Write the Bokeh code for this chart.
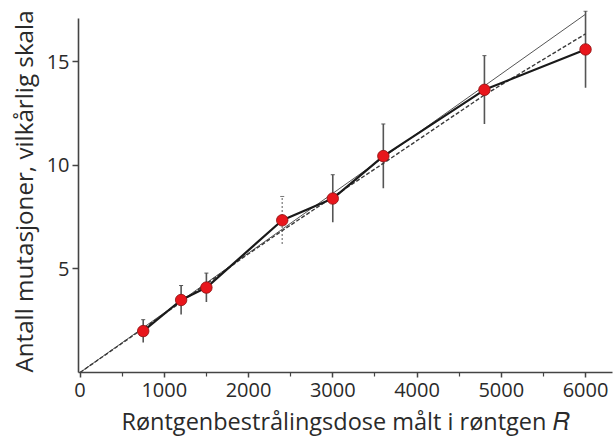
from bokeh.plotting import figure
from bokeh.models import ColumnDataSource, Whisker, FixedTicker, Range1d, TeeHead
from bokeh.embed import file_html
from bokeh.resources import INLINE

# data
dose = [750, 1200, 1500, 2400, 3000, 3600, 4800, 6000]
mutations = [2.0, 3.5, 4.1, 7.35, 8.4, 10.45, 13.65, 15.6]
errors = [0.55, 0.7, 0.7, 1.15, 1.15, 1.55, 1.65, 1.85]
dotted_bar = [False, False, False, True, False, False, False, False]

line_x = [0, 6000]
line_y = [0, 17.3]

dashed_x = [0, 1200, 1900, 2400, 3600, 4800, 6000]
dashed_y = [0, 3.4, 5.45, 6.85, 10.1, 13.4, 16.35]

x_ticks = [0, 1000, 2000, 3000, 4000, 5000, 6000]
x_minor = [500, 1500, 2500, 3500, 4500, 5500]
y_ticks = [5, 10, 15]

FONT = "Open Sans"
TEXT = "#2a2a2a"

p = figure(width=614, height=444, output_backend="svg", toolbar_location=None,
           x_range=Range1d(-18, 6320), y_range=Range1d(0, 17.48),
           min_border_left=78, min_border_right=2, min_border_top=10, min_border_bottom=72)
p.outline_line_color = None
p.grid.visible = False
p.background_fill_color = "white"

# thin straight line through origin
p.line(line_x, line_y, line_color="#555555", line_width=1)
# dashed fit
p.line(dashed_x, dashed_y, line_color="#3a3a3a", line_width=1.4, line_dash="4 2")


def bars(flag):
    xs = [d for d, f in zip(dose, dotted_bar) if f == flag]
    ms = [m for m, f in zip(mutations, dotted_bar) if f == flag]
    es = [e for e, f in zip(errors, dotted_bar) if f == flag]
    return ColumnDataSource(dict(x=xs, lo=[m - e for m, e in zip(ms, es)],
                                 hi=[m + e for m, e in zip(ms, es)]))


solid_src = bars(False)
dot_src = bars(True)

p.add_layout(Whisker(source=solid_src, base="x", upper="hi", lower="lo", dimension="height",
                     line_color="#555555", line_width=1.6,
                     upper_head=TeeHead(size=4, line_color="#555555", line_width=1),
                     lower_head=TeeHead(size=0.1, line_alpha=0)))
p.add_layout(Whisker(source=dot_src, base="x", upper="hi", lower="lo", dimension="height",
                     line_color="#8a8a8a", line_width=1.4, line_dash="2 2",
                     upper_head=TeeHead(size=4, line_color="#777777", line_width=1),
                     lower_head=TeeHead(size=0.1, line_alpha=0)))

# thick connecting line
p.line(dose, mutations, line_color="#1a1a1a", line_width=2.2)
# red markers
p.scatter(dose, mutations, size=11.5, fill_color="#e8161c", line_color="#8a1010", line_width=0.8)

# axes
p.xaxis.ticker = FixedTicker(ticks=x_ticks, minor_ticks=x_minor)
p.yaxis.ticker = FixedTicker(ticks=y_ticks, minor_ticks=[])
p.yaxis.bounds = (0, 17.1)
for ax in (p.xaxis[0], p.yaxis[0]):
    ax.axis_line_color = "#444444"
    ax.axis_line_width = 1.6
    ax.major_tick_line_color = "#444444"
    ax.minor_tick_line_color = "#444444"
    ax.major_tick_line_width = 1.5
    ax.minor_tick_line_width = 1.2
    ax.major_tick_in = 0
    ax.minor_tick_in = 0
    ax.major_label_text_font = FONT
    ax.major_label_text_font_size = "20px"
    ax.major_label_text_color = TEXT
    ax.axis_label_text_font = FONT
    ax.axis_label_text_font_style = "normal"
    ax.axis_label_text_color = TEXT

p.xaxis.axis_label_text_font_size = "23.5px"
p.yaxis.axis_label_text_font_size = "24.2px"
p.xaxis.major_tick_out = 5
p.xaxis.minor_tick_out = 4
p.yaxis.major_tick_out = 6
p.yaxis.major_label_standoff = 3
p.xaxis.major_label_standoff = 5
p.xaxis.axis_label = "Røntgenbestrålingsdose målt i røntgen 𝑅"
p.yaxis.axis_label = "Antall mutasjoner, vilkårlig skala"
p.xaxis.axis_label_standoff = 5
p.yaxis.axis_label_standoff = 4

open("out.html", "w").write(file_html(p, INLINE))
